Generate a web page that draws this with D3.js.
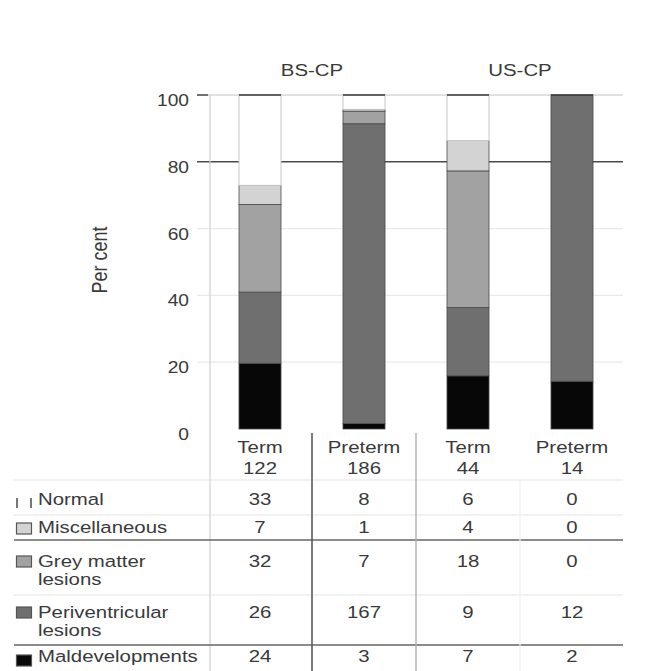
<!DOCTYPE html>
<html>
<head>
<meta charset="utf-8">
<script src="https://cdn.jsdelivr.net/npm/d3@7"></script>
<style>
  body { margin: 0; background: #fff; }
  svg { display: block; }
  text { font-family: "Liberation Sans", Arial, Helvetica, sans-serif; fill: #3a3a3a; }
</style>
</head>
<body>
<svg id="chart" width="660" height="671"></svg>
<script>
// ---- data -------------------------------------------------------------
const groups = ["BS-CP", "US-CP"];
const columnGroup = ["BS-CP", "BS-CP", "US-CP", "US-CP"];
const columnLabels = ["Term", "Preterm", "Term", "Preterm"];
const columnTotals = [122, 186, 44, 14];

const categories = ["Normal", "Miscellaneous", "Grey matter lesions", "Periventricular lesions", "Maldevelopments"];
const categoryLines = [["Normal"], ["Miscellaneous"], ["Grey matter", "lesions"], ["Periventricular", "lesions"], ["Maldevelopments"]];

const normal          = [33, 8, 6, 0];
const miscellaneous   = [7, 1, 4, 0];
const greyMatter      = [32, 7, 18, 0];
const periventricular = [26, 167, 9, 12];
const maldevelopments = [24, 3, 7, 2];

const yTicks = [0, 20, 40, 60, 80, 100];

// ---- setup -------------------------------------------------------------
const countsByCategory = {
  "Normal": normal,
  "Miscellaneous": miscellaneous,
  "Grey matter lesions": greyMatter,
  "Periventricular lesions": periventricular,
  "Maldevelopments": maldevelopments
};
const fills = {
  "Normal": "#ffffff",
  "Miscellaneous": "#d3d3d3",
  "Grey matter lesions": "#a2a2a2",
  "Periventricular lesions": "#6f6f6f",
  "Maldevelopments": "#070707"
};

const svg = d3.select("#chart");
const cols = d3.range(columnLabels.length);

const x = d3.scaleBand().domain(cols).range([208, 624]).paddingInner(0.596).paddingOuter(0.298);
const y = d3.scaleLinear().domain([0, 100]).range([429, 95]);
const cx = i => x(i) + x.bandwidth() / 2;

// per-column percentage rows, stacked from the bottom up
const stackKeys = categories.slice().reverse();
const rows = cols.map(i => {
  const r = { col: i };
  categories.forEach(c => { r[c] = countsByCategory[c][i] / columnTotals[i] * 100; });
  return r;
});
const series = d3.stack().keys(stackKeys)(rows);

// horizontally widened text, as the lettering in this chart is set wide
const SX = 1.2;
function wideText(parent, px, py, str, size, anchor) {
  return parent.append("g")
    .attr("transform", `translate(${px},${py}) scale(${SX},1)`)
    .append("text")
    .attr("text-anchor", anchor || "middle")
    .attr("font-size", size)
    .text(str);
}

// ---- gridlines & axis ----------------------------------------------------
const grid = svg.append("g");
grid.selectAll("line.grid")
  .data(yTicks.filter(t => t > 0))
  .join("line")
  .attr("x1", 197).attr("x2", 623)
  .attr("y1", d => y(d)).attr("y2", d => y(d))
  .attr("stroke", d => d === 80 ? "#4a4a4a" : d === 100 ? "#c4c4c4" : "#e9e9e9")
  .attr("stroke-width", d => d === 80 ? 1.6 : 1.2);

// darker stub where the 100 line meets the axis
grid.append("line")
  .attr("x1", 197).attr("x2", 208).attr("y1", y(100)).attr("y2", y(100))
  .attr("stroke", "#555").attr("stroke-width", 1.6);

// vertical axis line running down through the table
grid.append("line")
  .attr("x1", 210).attr("x2", 210).attr("y1", y(100)).attr("y2", 671)
  .attr("stroke", "#cfcfcf").attr("stroke-width", 1.2);

const yAxisLabels = svg.append("g");
yTicks.forEach(t => wideText(yAxisLabels, 189, y(t) + 11, String(t), 16, "end"));

// axis title
svg.append("g")
  .attr("transform", `translate(107,260) scale(${SX},1) rotate(-90)`)
  .append("text")
  .attr("text-anchor", "middle")
  .attr("font-size", 18)
  .text("Per cent");

// group titles
groups.forEach(g => {
  const idx = cols.filter(i => columnGroup[i] === g);
  const mid = d3.mean(idx, cx);
  wideText(svg, mid, 76, g, 17, "middle");
});

// ---- bars --------------------------------------------------------------
const bars = svg.append("g");
series.forEach(s => {
  const key = s.key;
  bars.append("g")
    .selectAll("rect")
    .data(s.filter(d => d[1] - d[0] > 0))
    .join("rect")
    .attr("x", d => x(d.data.col))
    .attr("width", x.bandwidth())
    .attr("y", d => y(d[1]))
    .attr("height", d => y(d[0]) - y(d[1]))
    .attr("fill", fills[key])
    .attr("stroke", key === "Normal" ? "#c8c8c8" : "#4a4a4a")
    .attr("stroke-width", key === "Normal" ? 1 : 0.8);
});

// dark top edge on each bar
bars.selectAll("line.top")
  .data(rows)
  .join("line")
  .attr("x1", d => x(d.col)).attr("x2", d => x(d.col) + x.bandwidth())
  .attr("y1", d => y(d3.sum(categories, c => d[c])))
  .attr("y2", d => y(d3.sum(categories, c => d[c])))
  .attr("stroke", "#3a3a3a").attr("stroke-width", 1.6);

// ---- table -------------------------------------------------------------
const table = svg.append("g");

// horizontal rules
const rules = [
  { yy: 480, dark: false },
  { yy: 515, dark: false },
  { yy: 540, dark: true },
  { yy: 595, dark: false },
  { yy: 645, dark: true }
];
table.selectAll("line.rule")
  .data(rules)
  .join("line")
  .attr("x1", 14).attr("x2", 623)
  .attr("y1", d => d.yy).attr("y2", d => d.yy)
  .attr("stroke", d => d.dark ? "#666" : "#e4e4e4")
  .attr("stroke-width", d => d.dark ? 1.6 : 1.2);

// column dividers
const dividers = [
  { xx: (cx(0) + cx(1)) / 2, stroke: "#5a5a5a", w: 1.6, top: 433 },
  { xx: (cx(1) + cx(2)) / 2, stroke: "#b0b0b0", w: 1.4, top: 433 },
  { xx: (cx(2) + cx(3)) / 2, stroke: "#f0f0f0", w: 1.2, top: 480 }
];
table.selectAll("line.div")
  .data(dividers)
  .join("line")
  .attr("x1", d => d.xx).attr("x2", d => d.xx)
  .attr("y1", d => d.top).attr("y2", 671)
  .attr("stroke", d => d.stroke).attr("stroke-width", d => d.w);

// column headers
cols.forEach(i => {
  wideText(table, cx(i), 453, columnLabels[i], 17, "middle");
  wideText(table, cx(i), 474, String(columnTotals[i]), 17, "middle");
});

// row layout: first baseline of each category row and its swatch box
const rowBaselines = [505, 533, 567, 618, 662];
const swatchTop = [498, 523, 556, 607, 655];

categories.forEach((c, r) => {
  const base = rowBaselines[r];
  categoryLines[r].forEach((ln, k) => wideText(table, 38, base + k * 18, ln, 17, "start"));
  countsByCategory[c].forEach((v, i) => wideText(table, cx(i), base, String(v), 17, "middle"));

  if (c === "Normal") {
    [17, 31].forEach(px => table.append("line")
      .attr("x1", px).attr("x2", px)
      .attr("y1", swatchTop[r]).attr("y2", swatchTop[r] + 10)
      .attr("stroke", "#555").attr("stroke-width", 1.6));
  } else {
    table.append("rect")
      .attr("x", 16.5).attr("y", swatchTop[r])
      .attr("width", 15).attr("height", 11)
      .attr("fill", fills[c])
      .attr("stroke", "#555").attr("stroke-width", 1.2);
  }
});
</script>
</body>
</html>
